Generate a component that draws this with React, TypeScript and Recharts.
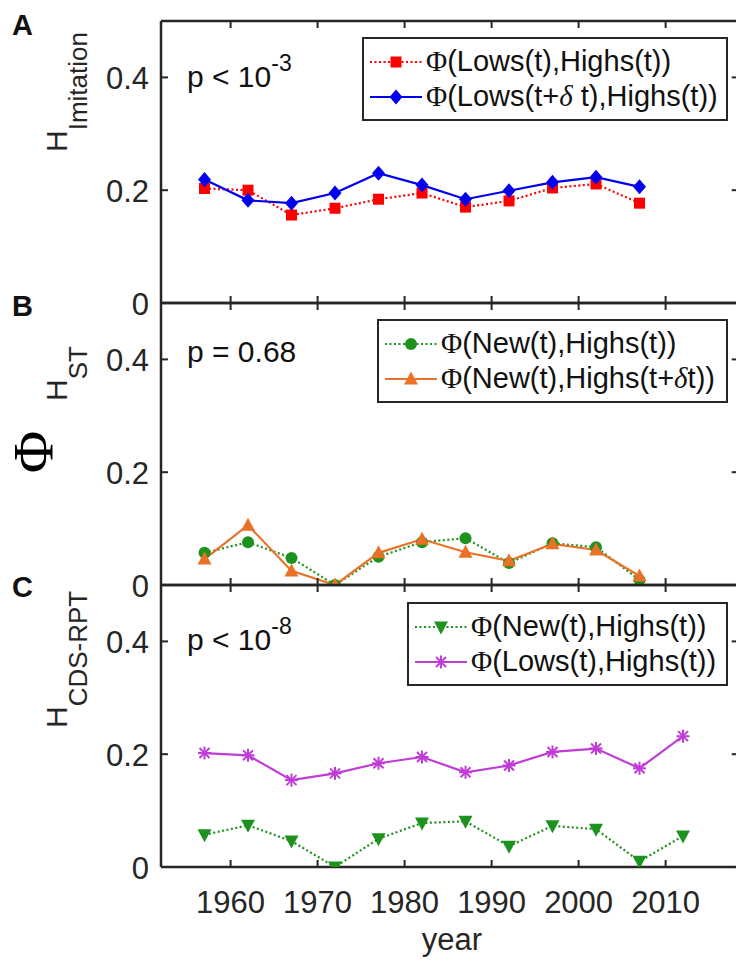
import type { ReactElement, ReactNode } from 'react';
import { Line, LineChart, ReferenceLine, XAxis, YAxis } from 'recharts';

// sampling years (A and B stop at 2007, C has one more point)
const years = [1957, 1962, 1967, 1972, 1977, 1982, 1987, 1992, 1997, 2002, 2007];
const yearsC = [...years, 2012];

// panel A
const lowsHighsA = [0.203, 0.2, 0.156, 0.168, 0.184, 0.195, 0.17, 0.181, 0.204, 0.211, 0.177];
const lowsShiftHighsA = [0.219, 0.182, 0.177, 0.195, 0.23, 0.209, 0.184, 0.199, 0.214, 0.223, 0.206];
// panel B
const newHighsB = [0.057, 0.076, 0.048, 0.0, 0.05, 0.076, 0.083, 0.039, 0.074, 0.067, 0.009];
const newHighsShiftB = [0.046, 0.106, 0.025, 0.0, 0.057, 0.081, 0.058, 0.043, 0.073, 0.062, 0.016];
// panel C
const newHighsC = [0.057, 0.074, 0.046, 0.0, 0.05, 0.078, 0.081, 0.037, 0.073, 0.067, 0.01, 0.055];
const lowsHighsC = [0.202, 0.198, 0.154, 0.166, 0.184, 0.195, 0.168, 0.18, 0.204, 0.21, 0.175, 0.232];

const xTicks = [1960, 1970, 1980, 1990, 2000, 2010];
const yTicks = [0, 0.2, 0.4];
const X_DOMAIN: [number, number] = [1952, 2018.4];
const Y_DOMAIN: [number, number] = [0, 0.5];

const AXIS = '#262626';
const SANS = '"Liberation Sans", Arial, sans-serif';
const SERIF = '"Liberation Serif", "Times New Roman", serif';

const COLORS = {
  red: '#ff0000',
  blue: '#0000ee',
  green: '#1e921e',
  orange: '#ea7228',
  magenta: '#c03cd6',
};

// chart geometry (local to each panel's svg)
const CHART_W = 760;
const CHART_H = 380;
const PLOT_LEFT = 161;
const PLOT_RIGHT = 738.7;
const PLOT_TOP = 20;
const PLOT_H = 282;
const PLOT_BOTTOM = PLOT_TOP + PLOT_H;
const X_AXIS_H = 50;
const TICK = 7;

type MarkerKind = 'square' | 'diamond' | 'circle' | 'triUp' | 'triDown' | 'star';

function Marker({ kind, cx, cy, color }: { kind: MarkerKind; cx: number; cy: number; color: string }) {
  switch (kind) {
    case 'square':
      return <rect x={cx - 5.5} y={cy - 5.5} width={11} height={11} fill={color} />;
    case 'diamond':
      return <polygon points={`${cx},${cy - 7.5} ${cx + 6.5},${cy} ${cx},${cy + 7.5} ${cx - 6.5},${cy}`} fill={color} />;
    case 'circle':
      return <circle cx={cx} cy={cy} r={6} fill={color} />;
    case 'triUp':
      return <polygon points={`${cx},${cy - 7.5} ${cx + 7},${cy + 5.5} ${cx - 7},${cy + 5.5}`} fill={color} />;
    case 'triDown':
      return <polygon points={`${cx - 7},${cy - 5.5} ${cx + 7},${cy - 5.5} ${cx},${cy + 7.5}`} fill={color} />;
    default:
      return (
        <g stroke={color} strokeWidth={2}>
          <line x1={cx - 6.5} x2={cx + 6.5} y1={cy} y2={cy} />
          <line x1={cx} x2={cx} y1={cy - 6.5} y2={cy + 6.5} />
          <line x1={cx - 5} x2={cx + 5} y1={cy - 5} y2={cy + 5} />
          <line x1={cx - 5} x2={cx + 5} y1={cy + 5} y2={cy - 5} />
        </g>
      );
  }
}

interface SeriesDef {
  key: string;
  values: number[];
  color: string;
  dashed: boolean;
  marker: MarkerKind;
  label: ReactNode;
}

const Phi = () => <span style={{ fontFamily: SERIF }}>Φ</span>;
const delta = <span style={{ fontFamily: SERIF, fontStyle: 'italic' }}>δ</span>;

function yTick(props: any): ReactElement {
  const { y, payload } = props;
  return (
    <g>
      <line x1={PLOT_LEFT} x2={PLOT_LEFT + TICK} y1={y} y2={y} stroke={AXIS} strokeWidth={2} />
      <line x1={PLOT_RIGHT - TICK} x2={PLOT_RIGHT} y1={y} y2={y} stroke={AXIS} strokeWidth={2} />
      <text x={149} y={y} dy={12} textAnchor="end" fontSize={31} fontFamily={SANS} fill={AXIS}>
        {payload.value === 0 ? '0' : String(payload.value)}
      </text>
    </g>
  );
}

function makeXTick(showLabels: boolean) {
  return (props: any): ReactElement => {
    const { x, payload } = props;
    return (
      <g>
        <line x1={x} x2={x} y1={PLOT_BOTTOM} y2={PLOT_BOTTOM - TICK} stroke={AXIS} strokeWidth={2} />
        <line x1={x} x2={x} y1={PLOT_TOP} y2={PLOT_TOP + TICK} stroke={AXIS} strokeWidth={2} />
        {showLabels && (
          <text x={x} y={PLOT_BOTTOM + 46} textAnchor="middle" fontSize={31} fontFamily={SANS} fill={AXIS}>
            {payload.value}
          </text>
        )}
      </g>
    );
  };
}

function Panel({
  top,
  xs,
  series,
  showXLabels,
}: {
  top: number;
  xs: number[];
  series: SeriesDef[];
  showXLabels: boolean;
}) {
  const data = xs.map((year, i) => {
    const row: Record<string, number> = { year };
    series.forEach((s) => {
      if (i < s.values.length) row[s.key] = s.values[i];
    });
    return row;
  });
  return (
    <div style={{ position: 'absolute', left: 0, top: top - PLOT_TOP }}>
      <LineChart
        width={CHART_W}
        height={CHART_H}
        data={data}
        margin={{
          top: PLOT_TOP,
          right: CHART_W - PLOT_RIGHT,
          bottom: CHART_H - PLOT_BOTTOM - X_AXIS_H,
          left: PLOT_LEFT - 60,
        }}
      >
        <XAxis
          dataKey="year"
          type="number"
          domain={X_DOMAIN}
          ticks={xTicks}
          interval={0}
          height={X_AXIS_H}
          allowDataOverflow
          tickLine={false}
          axisLine={{ stroke: AXIS, strokeWidth: 2.5 }}
          tick={makeXTick(showXLabels)}
        />
        <YAxis
          type="number"
          domain={Y_DOMAIN}
          ticks={yTicks}
          interval={0}
          width={60}
          allowDataOverflow
          tickLine={false}
          axisLine={{ stroke: AXIS, strokeWidth: 2.5 }}
          tick={yTick}
        />
        <ReferenceLine y={0.5} stroke={AXIS} strokeWidth={2.5} />
        <ReferenceLine x={X_DOMAIN[1]} stroke={AXIS} strokeWidth={2.5} />
        {series.map((s) => (
          <Line
            key={s.key}
            dataKey={s.key}
            stroke={s.color}
            strokeWidth={2.2}
            strokeDasharray={s.dashed ? '2 2.5' : undefined}
            isAnimationActive={false}
            activeDot={false}
            dot={(p: any) => <Marker key={`${s.key}-${p.index}`} kind={s.marker} cx={p.cx} cy={p.cy} color={s.color} />}
          />
        ))}
      </LineChart>
    </div>
  );
}

function LegendBox({
  left,
  top,
  width,
  series,
}: {
  left: number;
  top: number;
  width: number;
  series: SeriesDef[];
}) {
  return (
    <div
      style={{
        position: 'absolute',
        left,
        top,
        width,
        height: 84,
        boxSizing: 'border-box',
        border: `2.5px solid ${AXIS}`,
        background: '#fff',
        display: 'flex',
        flexDirection: 'column',
        justifyContent: 'center',
        paddingLeft: 6,
      }}
    >
      {series.map((s) => (
        <div key={s.key} style={{ display: 'flex', alignItems: 'center', height: 35 }}>
          <svg width={52} height={20}>
            <line
              x1={0}
              x2={52}
              y1={10}
              y2={10}
              stroke={s.color}
              strokeWidth={2.2}
              strokeDasharray={s.dashed ? '2 2.5' : undefined}
            />
            <Marker kind={s.marker} cx={26} cy={10} color={s.color} />
          </svg>
          <span style={{ marginLeft: 4, fontSize: 29, fontFamily: SANS, color: '#111', whiteSpace: 'nowrap', lineHeight: 1 }}>
            {s.label}
          </span>
        </div>
      ))}
    </div>
  );
}

const seriesA: SeriesDef[] = [
  {
    key: 'lowsHighs',
    values: lowsHighsA,
    color: COLORS.red,
    dashed: true,
    marker: 'square',
    label: <><Phi />(Lows(t),Highs(t))</>,
  },
  {
    key: 'lowsShift',
    values: lowsShiftHighsA,
    color: COLORS.blue,
    dashed: false,
    marker: 'diamond',
    label: <><Phi />(Lows(t+{delta} t),Highs(t))</>,
  },
];

const seriesB: SeriesDef[] = [
  {
    key: 'newHighs',
    values: newHighsB,
    color: COLORS.green,
    dashed: true,
    marker: 'circle',
    label: <><Phi />(New(t),Highs(t))</>,
  },
  {
    key: 'newHighsShift',
    values: newHighsShiftB,
    color: COLORS.orange,
    dashed: false,
    marker: 'triUp',
    label: <><Phi />(New(t),Highs(t+{delta}t))</>,
  },
];

const seriesC: SeriesDef[] = [
  {
    key: 'newHighs',
    values: newHighsC,
    color: COLORS.green,
    dashed: true,
    marker: 'triDown',
    label: <><Phi />(New(t),Highs(t))</>,
  },
  {
    key: 'lowsHighs',
    values: lowsHighsC,
    color: COLORS.magenta,
    dashed: false,
    marker: 'star',
    label: <><Phi />(Lows(t),Highs(t))</>,
  },
];

export default function App(): ReactElement {
  return (
    <div
      style={{
        position: 'absolute',
        left: 0,
        top: 0,
        width: 736,
        height: 965,
        overflow: 'hidden',
        background: '#fff',
      }}
    >
      <Panel top={21} xs={years} series={seriesA} showXLabels={false} />
      <Panel top={303} xs={years} series={seriesB} showXLabels={false} />
      <Panel top={585} xs={yearsC} series={seriesC} showXLabels />

      <svg width={736} height={965} style={{ position: 'absolute', left: 0, top: 0, pointerEvents: 'none' }}>
        <g fontFamily={SANS} fill="#111">
          <text x={12} y={35} fontSize={29} fontWeight="bold">A</text>
          <text x={12} y={316} fontSize={29} fontWeight="bold">B</text>
          <text x={12} y={597} fontSize={29} fontWeight="bold">C</text>

          <text x={187} y={87} fontSize={30}>
            p &lt; 10<tspan dy={-16} fontSize={23}>-3</tspan>
          </text>
          <text x={187} y={362} fontSize={30}>p = 0.68</text>
          <text x={187} y={650} fontSize={30}>
            p &lt; 10<tspan dy={-16} fontSize={23}>-8</tspan>
          </text>

          <text transform="translate(67,152) rotate(-90)" fontSize={30} fill={AXIS}>
            H<tspan dy={20} fontSize={26}>Imitation</tspan>
          </text>
          <text transform="translate(67,401) rotate(-90)" fontSize={30} fill={AXIS}>
            H<tspan dy={20} fontSize={26}>ST</tspan>
          </text>
          <text transform="translate(67,728) rotate(-90)" fontSize={30} fill={AXIS}>
            H<tspan dy={20} fontSize={26}>CDS-RPT</tspan>
          </text>

          <text transform="translate(53,452) rotate(-90)" textAnchor="middle" fontSize={58} fontFamily={SERIF} fill="#000">
            Φ
          </text>

          <text x={452} y={950} textAnchor="middle" fontSize={31} fill={AXIS}>year</text>
        </g>
      </svg>

      <LegendBox left={362} top={37} width={366} series={seriesA} />
      <LegendBox left={377} top={319} width={351} series={seriesB} />
      <LegendBox left={407} top={602} width={321} series={seriesC} />
    </div>
  );
}
